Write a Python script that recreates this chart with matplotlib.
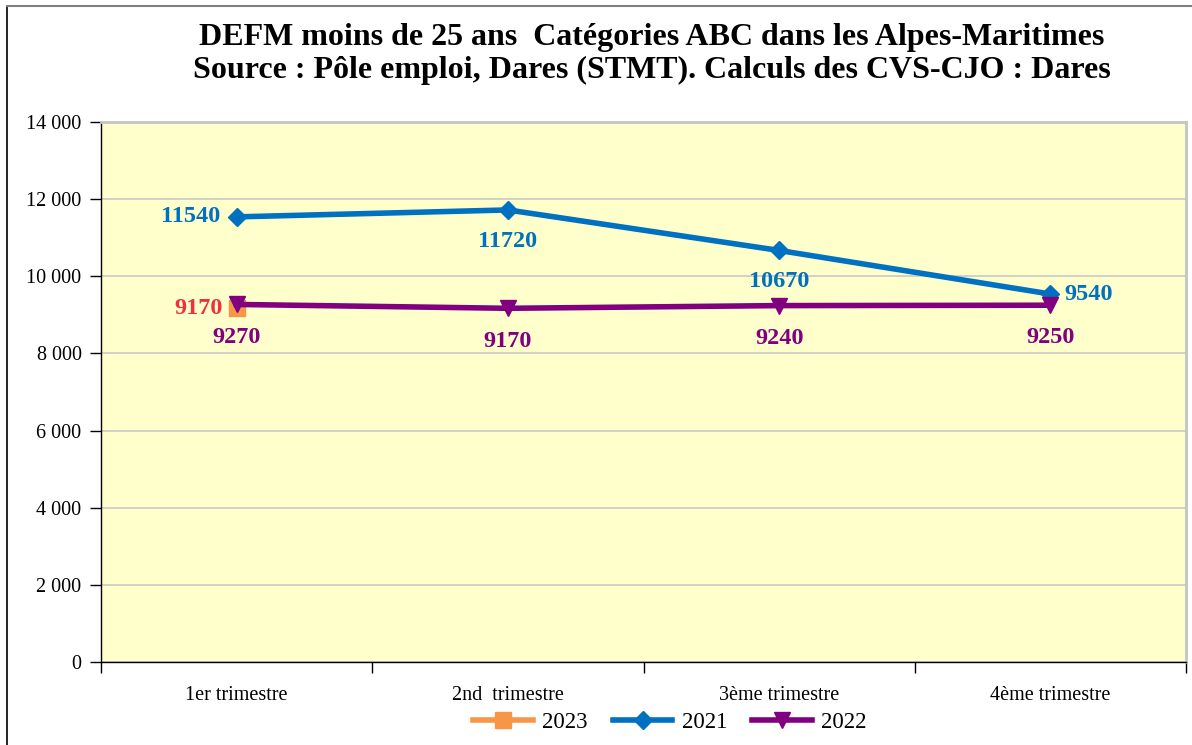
import matplotlib
matplotlib.use("Agg")
import matplotlib.pyplot as plt
from matplotlib.lines import Line2D
from matplotlib.ticker import FuncFormatter, FixedLocator

plt.rcParams['font.family'] = ['Liberation Serif', 'DejaVu Serif']

categories = ["1er trimestre", "2nd  trimestre", "3ème trimestre", "4ème trimestre"]
values_2023 = [9170]
values_2021 = [11540, 11720, 10670, 9540]
values_2022 = [9270, 9170, 9240, 9250]
yticks = [0, 2000, 4000, 6000, 8000, 10000, 12000, 14000]

title = "DEFM moins de 25 ans  Catégories ABC dans les Alpes-Maritimes\nSource : Pôle emploi, Dares (STMT). Calculs des CVS-CJO : Dares"

c2023 = "#F79646"
c2021 = "#0070C0"
c2022 = "#800080"
clabel2023 = "#F0303A"

W, H = 1192, 745
fig = plt.figure(figsize=(W / 100, H / 100), dpi=100)
ax = fig.add_axes([101 / W, 1 - 662 / H, (1186 - 101) / W, (662 - 122) / H])
ax.set_facecolor("#FFFFCC")

x = list(range(len(categories)))
ax.plot(x[:len(values_2023)], values_2023, color=c2023, lw=4, marker="s", ms=11, zorder=3)
ax.plot(x, values_2021, color=c2021, lw=4, marker="D", ms=9, zorder=4)
ax.plot(x, values_2022, color=c2022, lw=4, marker="v", ms=12, zorder=5)

ax.set_xlim(-0.5, len(categories) - 0.5)
ax.set_ylim(0, 14000)
ax.yaxis.set_major_locator(FixedLocator(yticks))
ax.yaxis.set_major_formatter(FuncFormatter(lambda v, p: f"{int(v):,}".replace(",", " ")))
ax.grid(axis="y", color="#C8C8C8", lw=1.2)
ax.set_axisbelow(True)

ax.set_xticks(x)
ax.set_xticklabels(categories, fontsize=14.5)
ax.tick_params(axis="x", which="major", length=0, pad=17)
ax.set_xticks([i - 0.5 for i in range(len(categories) + 1)], minor=True)
ax.tick_params(axis="x", which="minor", length=8, direction="out", width=1)
ax.tick_params(axis="y", length=8, direction="out", labelsize=14.5, width=1, pad=6)

for s in ["top", "right"]:
    ax.spines[s].set_color("#C4C4C4")
    ax.spines[s].set_linewidth(2)
for s in ["left", "bottom"]:
    ax.spines[s].set_color("black")
    ax.spines[s].set_linewidth(1)

lab_fs = 17.5
# 2021 labels
offs_2021 = [(-12, 0, "right", "center"), (0, -15, "center", "top"), (0, -15, "center", "top"), (10, 0, "left", "center")]
for xi, v, (dx, dy, ha, va) in zip(x, values_2021, offs_2021):
    ax.annotate(str(v), (xi, v), xytext=(dx, dy), textcoords="offset points",
                ha=ha, va=va, color=c2021, fontsize=lab_fs, fontweight="bold")
# 2022 labels
for xi, v in zip(x, values_2022):
    ax.annotate(str(v), (xi, v), xytext=(0, -16), textcoords="offset points",
                ha="center", va="top", color=c2022, fontsize=lab_fs, fontweight="bold")
# 2023 labels
for xi, v in zip(x, values_2023):
    ax.annotate(str(v), (xi, v), xytext=(-10, 0), textcoords="offset points",
                ha="right", va="center", color=clabel2023, fontsize=lab_fs, fontweight="bold")

fig.text(0.547, 1 - 54 / H, title, ha="center", va="center", fontsize=23,
         fontweight="bold", linespacing=1.2)

handles = [
    Line2D([], [], color=c2023, lw=4, marker="s", ms=11),
    Line2D([], [], color=c2021, lw=4, marker="D", ms=9),
    Line2D([], [], color=c2022, lw=4, marker="v", ms=12),
]
fig.legend(handles, ["2023", "2021", "2022"], loc="center", bbox_to_anchor=(0.562, 1 - 722 / H),
           ncol=3, frameon=False, fontsize=16.5, handlelength=2.6, columnspacing=1.1,
           handletextpad=0.4)

# figure border
fig.add_artist(Line2D([7 / W, 7 / W], [0, 1 - 6 / H], color="black", lw=1.2, transform=fig.transFigure))
fig.add_artist(Line2D([7 / W, 1], [1 - 6 / H, 1 - 6 / H], color="#808080", lw=1.5, transform=fig.transFigure))

fig.savefig("out.png", dpi=100, facecolor="white")
